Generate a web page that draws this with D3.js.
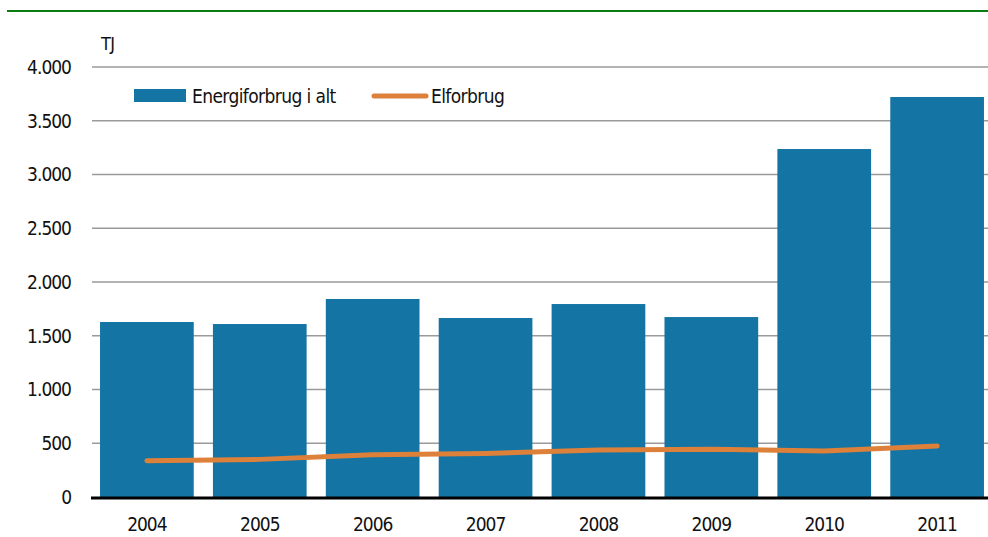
<!DOCTYPE html>
<html>
<head>
<meta charset="utf-8">
<script src="https://cdn.jsdelivr.net/npm/d3@7"></script>
<style>
  body { margin: 0; background: #fff; }
  svg text { font-family: "Liberation Sans Narrow", "DejaVu Sans Condensed", "Roboto", sans-serif; fill: #111; letter-spacing: -0.6px; }
</style>
</head>
<body>
<div id="chart"></div>
<script>
// data
const years = ['2004', '2005', '2006', '2007', '2008', '2009', '2010', '2011'];
const energiforbrug = [1628, 1609, 1842, 1665, 1795, 1674, 3237, 3721];
const elforbrug = [338, 350, 392, 405, 438, 445, 428, 475];
const yTicks = [0, 500, 1000, 1500, 2000, 2500, 3000, 3500, 4000];

const width = 988, height = 537;
const margin = { left: 91, right: -5, top: 67, bottom: 40 };
const blue = '#1474a4', orange = '#dc803a';

const svg = d3.select('#chart').append('svg')
  .attr('width', width)
  .attr('height', height);

// green rule at the top
svg.append('line')
  .attr('x1', 7).attr('x2', width)
  .attr('y1', 11).attr('y2', 11)
  .attr('stroke', '#0a7d10')
  .attr('stroke-width', 2);

const x = d3.scaleBand()
  .domain(years)
  .range([margin.left, width - margin.right])
  .paddingInner(0.17)
  .paddingOuter(0.08);

const y = d3.scaleLinear()
  .domain([0, 4000])
  .range([height - margin.bottom, margin.top]);

const fmt = d => d === 0 ? '0' : d3.format(',')(d).replace(/,/g, '.');

// gridlines
svg.append('g')
  .selectAll('line')
  .data(yTicks.filter(d => d > 0))
  .enter().append('line')
    .attr('x1', margin.left + 1).attr('x2', width)
    .attr('y1', d => y(d)).attr('y2', d => y(d))
    .attr('stroke', '#9a9a9a')
    .attr('stroke-width', 1.5);

// y labels
svg.append('g')
  .selectAll('text')
  .data(yTicks)
  .enter().append('text')
    .attr('x', 71)
    .attr('y', d => y(d))
    .attr('dy', '0.36em')
    .attr('text-anchor', 'end')
    .attr('font-size', 19)
    .style('letter-spacing', '-1px')
    .text(fmt);

svg.append('text')
  .attr('x', 101).attr('y', 50)
  .attr('font-size', 18)
  .text('TJ');

// bars
svg.append('g')
  .selectAll('rect')
  .data(years)
  .enter().append('rect')
    .attr('x', d => x(d))
    .attr('width', x.bandwidth())
    .attr('y', (d, i) => y(energiforbrug[i]))
    .attr('height', (d, i) => y(0) - y(energiforbrug[i]))
    .attr('fill', blue);

// baseline
svg.append('line')
  .attr('x1', margin.left).attr('x2', width)
  .attr('y1', y(0) + 1).attr('y2', y(0) + 1)
  .attr('stroke', '#000')
  .attr('stroke-width', 3);

// el line
const line = d3.line()
  .x((d, i) => x(years[i]) + x.bandwidth() / 2)
  .y(d => y(d));

svg.append('path')
  .datum(elforbrug)
  .attr('d', line)
  .attr('fill', 'none')
  .attr('stroke', orange)
  .attr('stroke-width', 5)
  .attr('stroke-linecap', 'round')
  .attr('stroke-linejoin', 'round');

// x labels
svg.append('g')
  .selectAll('text')
  .data(years)
  .enter().append('text')
    .attr('x', d => x(d) + x.bandwidth() / 2)
    .attr('y', 531)
    .attr('text-anchor', 'middle')
    .attr('font-size', 19)
    .style('letter-spacing', '-1px')
    .text(d => d);

// legend
const legend = svg.append('g');
legend.append('rect')
  .attr('x', 134).attr('y', 89)
  .attr('width', 52).attr('height', 13)
  .attr('fill', blue);
legend.append('text')
  .attr('x', 192).attr('y', 103)
  .attr('font-size', 19)
  .text('Energiforbrug i alt');
legend.append('line')
  .attr('x1', 374).attr('x2', 426)
  .attr('y1', 96).attr('y2', 96)
  .attr('stroke', orange)
  .attr('stroke-width', 5)
  .attr('stroke-linecap', 'round');
legend.append('text')
  .attr('x', 431).attr('y', 103)
  .attr('font-size', 19)
  .text('Elforbrug');
</script>
</body>
</html>
